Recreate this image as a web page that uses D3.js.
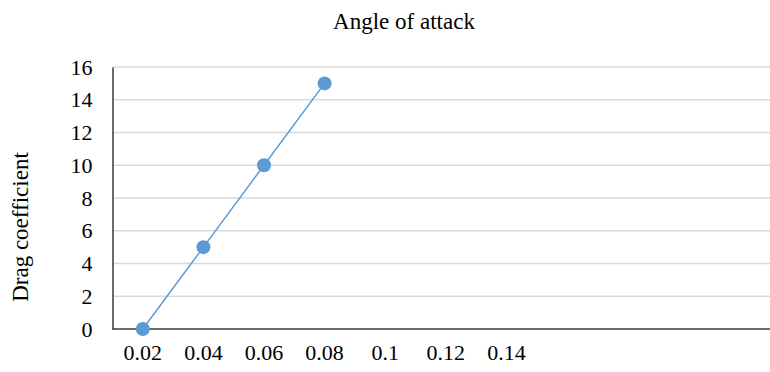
<!DOCTYPE html>
<html>
<head>
<meta charset="utf-8">
<script src="https://cdn.jsdelivr.net/npm/d3@7"></script>
<style>
	body { margin: 0; background: #fff; }
	svg { display: block; font-family: "Liberation Serif", "Times New Roman", serif; }
</style>
</head>
<body>
<svg width="770" height="372"></svg>
<script>
// chart data
var categories = ['0.02', '0.04', '0.06', '0.08', '0.1', '0.12', '0.14'];
var xValues = ['0.02', '0.04', '0.06', '0.08'];
var dragValues = [0, 5, 10, 15];
var yTicks = [0, 2, 4, 6, 8, 10, 12, 14, 16];

var svg = d3.select('svg');
var plotLeft = 112.5, plotTop = 67, plotBottom = 329, plotRight = 770;
var step = 60.6;

var x = d3.scaleBand().domain(categories).range([plotLeft, plotLeft + step * categories.length]);
var y = d3.scaleLinear().domain([0, 16]).range([plotBottom, plotTop]);

// gridlines
svg.append('g').selectAll('line').data(yTicks.filter(d => d > 0)).join('line')
	.attr('x1', plotLeft).attr('x2', plotRight)
	.attr('y1', d => y(d)).attr('y2', d => y(d))
	.style('stroke', '#d9d9d9').style('stroke-width', 1.5);

// y axis
var yAxis = svg.append('g').attr('transform', 'translate(' + plotLeft + ',0)')
	.call(d3.axisLeft(y).tickValues(yTicks).tickSize(0).tickPadding(20));
yAxis.select('.domain').style('stroke', '#3a3a3a').style('stroke-width', 1.5);
yAxis.selectAll('text').style('font-size', '22px').style('fill', '#000')
	.style('font-family', '"Liberation Serif", serif');

// x axis
var xAxis = svg.append('g').attr('transform', 'translate(0,' + plotBottom + ')')
	.call(d3.axisBottom(x).tickSize(0).tickPadding(15));
xAxis.select('.domain').remove();
xAxis.selectAll('text').style('font-size', '22px').style('fill', '#000')
	.style('font-family', '"Liberation Serif", serif');
svg.append('line').attr('x1', plotLeft).attr('x2', plotRight).attr('y1', plotBottom).attr('y2', plotBottom)
	.style('stroke', '#3a3a3a').style('stroke-width', 1.5);

// series
var pts = xValues.map((c, i) => [x(c) + x.bandwidth() / 2, y(dragValues[i])]);
svg.append('path').attr('d', d3.line()(pts))
	.style('fill', 'none').style('stroke', '#5b9bd5').style('stroke-width', 1.5);
svg.append('g').selectAll('circle').data(pts).join('circle')
	.attr('cx', d => d[0]).attr('cy', d => d[1]).attr('r', 7)
	.style('fill', '#5b9bd5');

// title and axis label
svg.append('text').attr('x', 404).attr('y', 29).attr('text-anchor', 'middle')
	.style('font-size', '23px').text('Angle of attack');
svg.append('text').attr('transform', 'translate(28,227) rotate(-90)').attr('text-anchor', 'middle')
	.style('font-size', '23px').text('Drag coefficient');
</script>
</body>
</html>
